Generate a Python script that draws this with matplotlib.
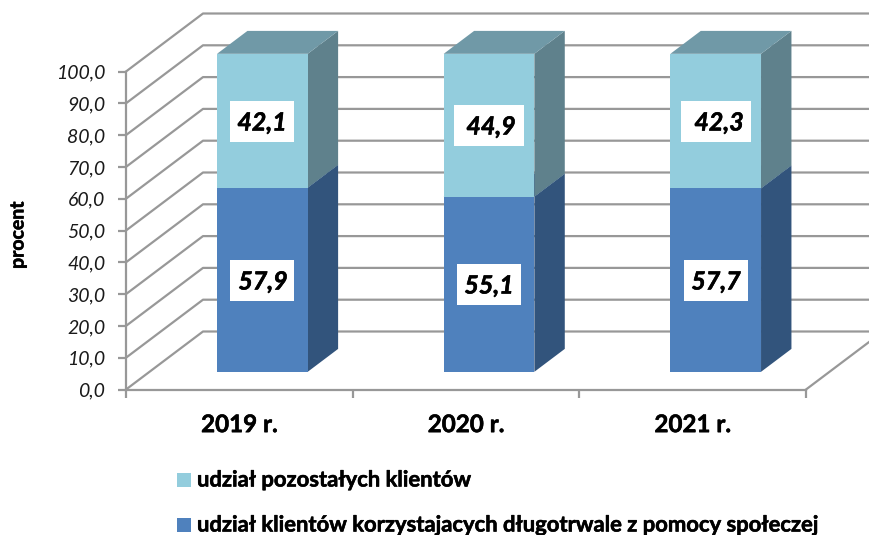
import matplotlib
matplotlib.use('Agg')
import matplotlib.pyplot as plt
import matplotlib.patheffects as pe
from matplotlib.patches import Polygon, Rectangle
import numpy as np

plt.rcParams['font.family'] = ['Lato', 'DejaVu Sans']

years = ['2019 r.', '2020 r.', '2021 r.']
klienci_dlugo = [57.9, 55.1, 57.7]
pozostali = [42.1, 44.9, 42.3]
y_ticks = np.arange(0, 101, 10)

name_top = 'udział pozostałych klientów'
name_bottom = 'udział klientów korzystajacych długotrwale z pomocy społeczej'

# label boxes were moved by hand in the original: left, right, top, text x, text y (px)
top_boxes = [(230, 294, 101, 262, 123), (454, 524, 105, 491, 127), (681, 751, 101, 719, 123)]
bottom_boxes = [(230, 294, 260, 263, 282), (457, 521, 264, 489, 286), (684, 748, 260, 716, 282)]

W, H = 870, 535
fig = plt.figure(figsize=(W / 100, H / 100), dpi=100)
x0, x1, y0, y1 = 126, 806, 389.5, 71.5
ax = fig.add_axes([x0 / W, 1 - y0 / H, (x1 - x0) / W, (y0 - y1) / H])
ax.set_xlim(0, 3)
ax.set_ylim(0, 100)
ax.patch.set_visible(False)

# 3d look: depth 1 moves 77 px right and 58 px up
dx = 77 / ((x1 - x0) / 3)
dy = 58 / ((y0 - y1) / 100)
grey = '#989898'
heavy = [pe.withStroke(linewidth=0.4, foreground='black')]


def proj(x, y, d):
    return x + dx * d, y + dy * d


for v in y_ticks:
    xa, ya = proj(0, v, 1)
    ax.plot([0, xa, 3.3], [v, ya, ya], color=grey, lw=1.6, clip_on=False, zorder=1)
xa, ya = proj(3, 0, 1)
ax.plot([3, xa], [0, ya], color=grey, lw=1.6, clip_on=False, zorder=1)


def box(x, w, bot, top, c_front, c_side, c_top, z):
    d0, d1 = 0.305, 0.70
    side = [proj(x + w, bot, d0), proj(x + w, top, d0), proj(x + w, top, d1), proj(x + w, bot, d1)]
    roof = [proj(x, top, d0), proj(x + w, top, d0), proj(x + w, top, d1), proj(x, top, d1)]
    front = [proj(x, bot, d0), proj(x + w, bot, d0), proj(x + w, top, d0), proj(x, top, d0)]
    ax.add_patch(Polygon(side, fc=c_side, ec='none', zorder=z, clip_on=False))
    ax.add_patch(Polygon(roof, fc=c_top, ec='none', zorder=z, clip_on=False))
    ax.add_patch(Polygon(front, fc=c_front, ec='none', zorder=z + 0.1, clip_on=False))


bar_w = 0.4
for i in range(3):
    x = i + 0.298
    box(x, bar_w, 0, klienci_dlugo[i], '#4f81bd', '#32547c', '#3f6797', 3)
    box(x, bar_w, klienci_dlugo[i], 100, '#93cddd', '#5f818c', '#7099a7', 4)

for vals, boxes in [(pozostali, top_boxes), (klienci_dlugo, bottom_boxes)]:
    for val, (left, right, top, tx, ty) in zip(vals, boxes):
        fig.add_artist(Rectangle((left / W, 1 - (top + 41) / H), (right - left) / W, 41 / H,
                                 transform=fig.transFigure, fc='white', ec='none', zorder=9))
        fig.text(tx / W, 1 - ty / H, f'{val:.1f}'.replace('.', ','), fontsize=18, fontweight='bold',
                 fontstyle='italic', color='black', ha='center', va='center', zorder=10, path_effects=heavy)

ax.set_xticks([0, 1, 2, 3])
ax.set_xticklabels([])
ax.set_xticks([0.5, 1.5, 2.5], minor=True)
ax.set_xticklabels(years, minor=True, fontsize=17.4, fontweight='bold', path_effects=heavy)
ax.tick_params(axis='x', which='major', length=6, width=1.6, color=grey)
ax.tick_params(axis='x', which='minor', length=0, pad=17)
ax.set_yticks(y_ticks)
ax.set_yticklabels([f'{v:.1f}'.replace('.', ',') for v in y_ticks], fontsize=14, fontstyle='italic', color='#1a1a1a')
ax.tick_params(axis='y', length=6, width=1.6, color=grey, pad=9)
for s in ['top', 'right']:
    ax.spines[s].set_visible(False)
for s in ['left', 'bottom']:
    ax.spines[s].set_color(grey)
    ax.spines[s].set_linewidth(1.6)
    ax.spines[s].set_zorder(2)

fig.text(18 / W, 1 - 235 / H, 'procent', rotation=90, fontsize=14, fontweight='bold', ha='center', va='center',
         path_effects=heavy)

# legend
for ly, name, c in [(480, name_top, '#93cddd'), (525, name_bottom, '#4f81bd')]:
    fig.add_artist(Rectangle((177 / W, 1 - (ly + 7) / H), 14 / W, 14 / H, transform=fig.transFigure, fc=c, ec='none'))
    fig.text(197 / W, 1 - ly / H, name, fontsize=15.85, fontweight='bold', ha='left', va='center',
             path_effects=heavy)

fig.savefig('out.png', dpi=100)
